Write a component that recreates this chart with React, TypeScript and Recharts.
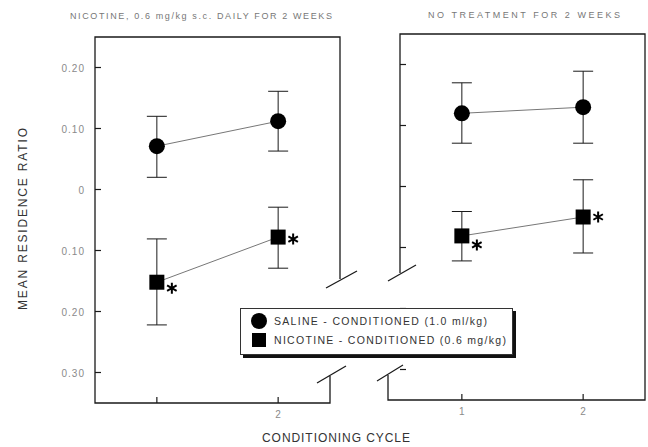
import React from 'react';
import { ComposedChart, Line, XAxis, YAxis, ErrorBar, LabelList } from 'recharts';

// values
const cycles = [1, 2];
const yTicks = [0.2, 0.1, 0, -0.1, -0.2, -0.3];

const leftSaline = [0.071, 0.112];
const leftSalineUpper = [0.12, 0.161];
const leftSalineLower = [0.02, 0.063];
const leftNicotine = [-0.152, -0.078];
const leftNicotineUpper = [-0.081, -0.029];
const leftNicotineLower = [-0.222, -0.129];

const rightSaline = [0.12, 0.13];
const rightSalineUpper = [0.17, 0.189];
const rightSalineLower = [0.071, 0.071];
const rightNicotine = [-0.081, -0.05];
const rightNicotineUpper = [-0.041, 0.011];
const rightNicotineLower = [-0.122, -0.109];

const leftTitle = 'NICOTINE, 0.6 mg/kg s.c. DAILY FOR 2 WEEKS';
const rightTitle = 'NO TREATMENT FOR 2 WEEKS';
const salineLabel = 'SALINE - CONDITIONED (1.0 ml/kg)';
const nicotineLabel = 'NICOTINE - CONDITIONED (0.6 mg/kg)';

const build = (sal: number[], salU: number[], salL: number[], nic: number[], nicU: number[], nicL: number[]) =>
  cycles.map((c, i) => ({
    cycle: c,
    sal: sal[i],
    salErr: [sal[i] - salL[i], salU[i] - sal[i]],
    nic: nic[i],
    nicErr: [nic[i] - nicL[i], nicU[i] - nic[i]],
  }));

const leftData = build(leftSaline, leftSalineUpper, leftSalineLower, leftNicotine, leftNicotineUpper, leftNicotineLower);
const rightData = build(rightSaline, rightSalineUpper, rightSalineLower, rightNicotine, rightNicotineUpper, rightNicotineLower);

const FONT = '"Liberation Sans", Arial, sans-serif';
const INK = '#1a1a1a';

const fmtY = (v: number) => (v === 0 ? '0' : Math.abs(v).toFixed(2));

const makeYTick = (showLabel: boolean) => (props: any) => {
  const { x, y, payload } = props;
  return (
    <g>
      <line x1={x + 8} y1={y} x2={x + 14} y2={y} stroke={INK} strokeWidth={1.2} />
      {showLabel && (
        <text x={x - 2} y={y + 4} textAnchor="end" fontSize={10} fill="#8a8a8a" fontFamily={FONT} letterSpacing={1}>
          {fmtY(payload.value)}
        </text>
      )}
    </g>
  );
};

const makeXTick = (hideFirst: boolean) => (props: any) => {
  const { x, y, payload } = props;
  const show = !(hideFirst && payload.value === 1);
  return (
    <g>
      <line x1={x} y1={y - 4} x2={x} y2={y - 10} stroke={INK} strokeWidth={1.2} />
      {show && (
        <text x={x} y={y + 11} textAnchor="middle" fontSize={10} fill="#8a8a8a" fontFamily={FONT}>
          {payload.value}
        </text>
      )}
    </g>
  );
};

const circleDot = (p: any) => <circle key={`c-${p.index}`} cx={p.cx} cy={p.cy} r={8} fill="#000" />;
const squareDot = (p: any) => (
  <rect key={`s-${p.index}`} x={p.cx - 7.5} y={p.cy - 7.5} width={15} height={15} fill="#000" />
);

// significance star drawn beside each nicotine point
const star = (panel: 'left' | 'right') => (props: any) => {
  const { x, y, index } = props;
  const cx = x + 15;
  const cy = y + (panel === 'left' ? (index === 0 ? 6 : 2) : index === 0 ? 9 : 0);
  const r = 5.5;
  const d = [0, 60, 120]
    .map((a) => {
      const rad = (a * Math.PI) / 180 + Math.PI / 2;
      const dx = r * Math.cos(rad);
      const dy = r * Math.sin(rad);
      return `M${cx - dx},${cy - dy}L${cx + dx},${cy + dy}`;
    })
    .join('');
  return <path key={`st-${index}`} d={d} stroke="#000" strokeWidth={2} fill="none" />;
};

const Panel = ({ data, showYLabels, hideFirstX, side }: any) => (
  <ComposedChart
    width={side === 'left' ? 360 : 288}
    height={447}
    data={data}
    margin={side === 'left' ? { top: 37, right: 20, bottom: 14, left: 35 } : { top: 34, right: 3, bottom: 17, left: 0 }}
  >
    <XAxis
      dataKey="cycle"
      type="number"
      domain={[0.49, 2.51]}
      ticks={cycles}
      allowDataOverflow
      axisLine={false}
      tickLine={false}
      tickSize={0}
      tickMargin={4}
      height={30}
      tick={makeXTick(hideFirstX)}
    />
    <YAxis
      type="number"
      domain={[-0.35, 0.25]}
      ticks={yTicks}
      allowDataOverflow
      axisLine={false}
      tickLine={false}
      tickSize={0}
      tickMargin={8}
      width={side === 'left' ? 60 : 40}
      tick={makeYTick(showYLabels)}
    />
    <Line dataKey="sal" stroke="#777" strokeWidth={1} dot={circleDot} activeDot={false} isAnimationActive={false}>
      <ErrorBar dataKey="salErr" width={10} stroke={INK} strokeWidth={1} direction="y" isAnimationActive={false} />
    </Line>
    <Line dataKey="nic" stroke="#777" strokeWidth={1} dot={squareDot} activeDot={false} isAnimationActive={false}>
      <ErrorBar dataKey="nicErr" width={10} stroke={INK} strokeWidth={1} direction="y" isAnimationActive={false} />
      <LabelList dataKey="nic" content={star(side)} />
    </Line>
  </ComposedChart>
);

const Frames = () => {
  const s = { stroke: INK, strokeWidth: 1.3, fill: 'none' };
  return (
    <svg width={648} height={447} style={{ position: 'absolute', left: 0, top: 0, pointerEvents: 'none' }}>
      {/* left panel */}
      <polyline points="340,279 340,37 95,37 95,403 330,403 330,376" {...s} />
      <line x1={326} y1={288} x2={357} y2={271} {...s} />
      <line x1={317} y1={383} x2={346} y2={366} {...s} />
      {/* right panel */}
      <polyline points="400,273 400,34 645,34 645,400 388,400 388,375" {...s} />
      <line x1={388} y1={281} x2={416} y2={265} {...s} />
      <line x1={377} y1={381} x2={403} y2={365} {...s} />
      <text x={70} y={19} fontSize={9} fill="#777" fontFamily={FONT} textLength={262} lengthAdjust="spacing">
        {leftTitle}
      </text>
      <text x={428} y={18} fontSize={9} fill="#777" fontFamily={FONT} textLength={192} lengthAdjust="spacing">
        {rightTitle}
      </text>
      <text
        transform="translate(27,219) rotate(-90)"
        textAnchor="middle"
        fontSize={12}
        fill="#333"
        fontFamily={FONT}
        textLength={182}
        lengthAdjust="spacing"
      >
        MEAN RESIDENCE RATIO
      </text>
      <text x={262} y={442} fontSize={12} fill="#333" fontFamily={FONT} textLength={148} lengthAdjust="spacing">
        CONDITIONING CYCLE
      </text>
    </svg>
  );
};

const LegendBox = () => (
  <div
    style={{
      position: 'absolute',
      left: 240,
      top: 308,
      width: 271,
      height: 45,
      border: '1px solid #333',
      boxShadow: '3px 3px 0 #111',
      background: '#fff',
      fontFamily: FONT,
      fontSize: 10.5,
      color: '#333',
      letterSpacing: 1.3,
      whiteSpace: 'nowrap',
    }}
  >
    <div style={{ position: 'absolute', left: 10, top: 4, display: 'flex', alignItems: 'center' }}>
      <span style={{ width: 16, height: 16, borderRadius: 8, background: '#000', display: 'inline-block' }} />
      <span style={{ marginLeft: 7 }}>{salineLabel}</span>
    </div>
    <div style={{ position: 'absolute', left: 11, top: 24, display: 'flex', alignItems: 'center' }}>
      <span style={{ width: 14, height: 14, background: '#000', display: 'inline-block' }} />
      <span style={{ marginLeft: 8 }}>{nicotineLabel}</span>
    </div>
  </div>
);

export default function App() {
  return (
    <div style={{ position: 'absolute', left: 0, top: 0, width: 648, height: 447, background: '#fff', overflow: 'hidden' }}>
      <div style={{ position: 'absolute', left: 0, top: 0 }}>
        <Panel data={leftData} showYLabels hideFirstX side="left" />
      </div>
      <div style={{ position: 'absolute', left: 360, top: 0 }}>
        <Panel data={rightData} showYLabels={false} hideFirstX={false} side="right" />
      </div>
      <Frames />
      <LegendBox />
    </div>
  );
}
